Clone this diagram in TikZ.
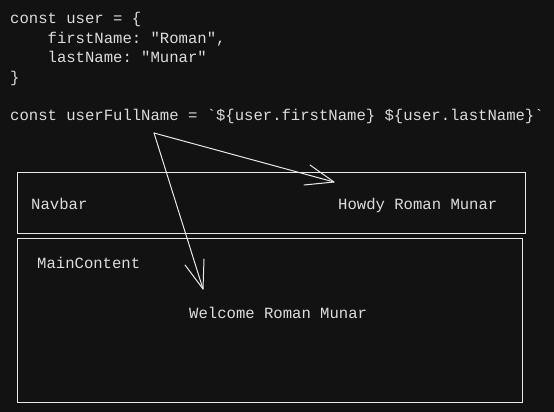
\documentclass[tikz,border=0pt]{standalone}
\usepackage{fontspec}
\setmonofont{Liberation Mono}
\definecolor{bgc}{HTML}{121212}
\definecolor{txt}{HTML}{DCDCDC}
\definecolor{ln}{HTML}{E8E8E8}
\begin{document}
\begin{tikzpicture}[x=1pt,y=-1pt,
  code/.style={anchor=base west,inner sep=0pt,text=txt,font=\ttfamily\fontsize{15.6}{18}\selectfont},
  frame/.style={draw=ln,line width=1.1pt},
  conn/.style={draw=ln,line width=1pt,line cap=round,line join=round}]
\fill[bgc] (0,0) rectangle (554,412);
\useasboundingbox (0,0) rectangle (554,412);
% code
\node[code] (l1) at (10,24) {const user = \{};
\node[code] (l2) at (10,43.5) {\ \ \ \ firstName: "Roman",};
\node[code] (l3) at (10,63) {\ \ \ \ lastName: "Munar"};
\node[code] (l4) at (10,82) {\}};
\node[code] (l6) at (10,120.5) {const userFullName = `\$\{user.firstName\} \$\{user.lastName\}`};
% boxes
\node[frame,minimum width=508pt,minimum height=61pt,inner sep=0pt,anchor=north west] (navbar) at (17,172) {};
\node[frame,minimum width=505pt,minimum height=164pt,inner sep=0pt,anchor=north west] (main) at (17,238) {};
\node[code] (navlbl) at (31,209) {Navbar};
\node[code] (howdy) at (338,209) {Howdy Roman Munar};
\node[code] (mainlbl) at (37,268) {MainContent};
\node[code] (welcome) at (189,318) {Welcome Roman Munar};
% arrows
\coordinate (src) at (154,133);
\coordinate (t1) at (334,182);
\coordinate (t2) at (203,289);
\draw[conn] (src) -- (t1);
\draw[conn] (310,165) -- (t1) -- (304,185);
\draw[conn] (src) -- (t2);
\draw[conn] (185,265) -- (t2) -- (204,259);
\end{tikzpicture}
\end{document}
